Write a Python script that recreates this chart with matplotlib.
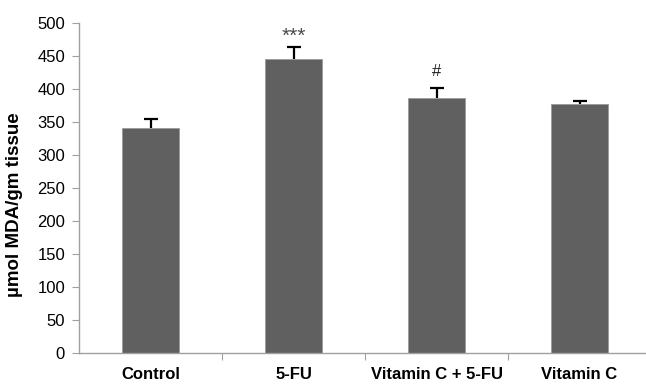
import matplotlib
matplotlib.use("Agg")
import matplotlib.pyplot as plt
import numpy as np

groups = ["Control", "5-FU", "Vitamin C + 5-FU", "Vitamin C"]
mda = [341, 446, 387, 378]
sem = [14, 17, 15, 4]
marks = ["", "***", "#", ""]

plt.rcParams["font.family"] = ["Liberation Sans", "DejaVu Sans"]

fig = plt.figure(figsize=(6.46, 3.84), dpi=100)
ax = fig.add_axes([79 / 646, 31 / 384, 572 / 646, 330 / 384])

x = np.arange(len(groups))
ax.bar(x, mda, width=0.40, color="#606060", edgecolor="#9a9a9a", linewidth=0.6, zorder=2)
# upper half only, like the Excel original
_, caps, _ = ax.errorbar(x, mda, yerr=[np.zeros(len(sem)), sem], fmt="none",
                         ecolor="black", elinewidth=1.6, capsize=5, capthick=1.6, zorder=3)
caps[0].set_visible(False)

for xi, v, e, m in zip(x, mda, sem, marks):
    if not m:
        continue
    if m.startswith("*"):
        ax.annotate(m, (xi, v + e), xytext=(0, 1), textcoords="offset points",
                    ha="center", va="bottom", fontsize=15, color="#4a4a4a")
    else:
        ax.annotate(m, (xi, v + e), xytext=(0, 6), textcoords="offset points",
                    ha="center", va="bottom", fontsize=12, color="#222222")

ax.set_xlim(-0.5, 3.5)
ax.set_ylim(0, 500)
ax.set_yticks(np.arange(0, 501, 50))
ax.tick_params(axis="y", labelsize=12, length=5, color="#a0a0a0", pad=5)

ax.set_xticks([0.5, 1.5, 2.5])
ax.set_xticklabels([])
ax.set_xticks(x, minor=True)
ax.set_xticklabels(groups, minor=True, fontweight="bold", fontsize=12)
ax.tick_params(axis="x", which="major", length=5, color="#a0a0a0")
ax.tick_params(axis="x", which="minor", length=0, pad=10)

for side in ("top", "right"):
    ax.spines[side].set_visible(False)
for side in ("left", "bottom"):
    ax.spines[side].set_color("#a0a0a0")
    ax.spines[side].set_linewidth(1.0)

ax.set_ylabel("µmol MDA/gm tissue", fontweight="bold", fontsize=13.5)
ax.yaxis.set_label_coords(-0.098, 0.45)

fig.savefig("out.png", dpi=100)
